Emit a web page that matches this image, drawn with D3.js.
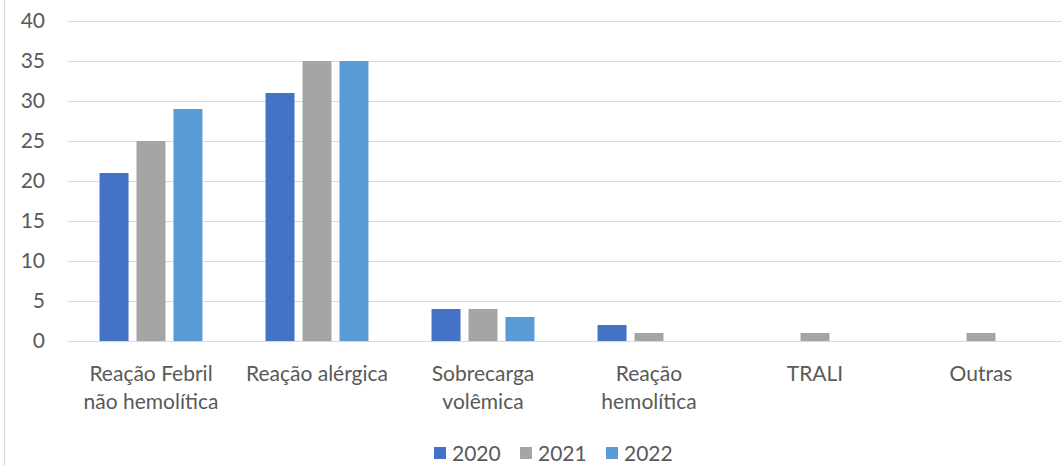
<!DOCTYPE html>
<html>
<head>
<meta charset="utf-8">
<script src="https://cdn.jsdelivr.net/npm/d3@7"></script>
<style>
  html, body { margin: 0; padding: 0; background: #fff; }
  svg { display: block; }
  text { font-family: Lato, "Liberation Sans", sans-serif; fill: #595959; }
</style>
</head>
<body>
<svg id="chart" width="1062" height="466"></svg>
<script>
// Transfusion reaction counts by type and year
const categories = [
  "Reação Febril não hemolítica",
  "Reação alérgica",
  "Sobrecarga volêmica",
  "Reação hemolítica",
  "TRALI",
  "Outras"
];
// Category labels split into the lines shown under the axis
const categoryLines = [
  ["Reação Febril", "não hemolítica"],
  ["Reação alérgica"],
  ["Sobrecarga", "volêmica"],
  ["Reação", "hemolítica"],
  ["TRALI"],
  ["Outras"]
];
const years = ["2020", "2021", "2022"];
const values2020 = [21, 31, 4, 2, 0, 0];
const values2021 = [25, 35, 4, 1, 1, 1];
const values2022 = [29, 35, 3, 0, 0, 0];
const yTicks = [0, 5, 10, 15, 20, 25, 30, 35, 40];
const colors = ["#4472C4", "#A5A5A5", "#5B9BD5"];

const series = [values2020, values2021, values2022];
const fontSize = 21;

const svg = d3.select("#chart");

// frame edge on the left
svg.append("line")
  .attr("x1", 4.5).attr("x2", 4.5)
  .attr("y1", 0).attr("y2", 466)
  .attr("stroke", "#d9d9d9").attr("stroke-width", 1);

const plot = { left: 68, right: 1064, top: 21, bottom: 341 };

const x0 = d3.scaleBand()
  .domain(categories)
  .range([plot.left, plot.right])
  .paddingInner(0.38)
  .paddingOuter(0.19);

const x1 = d3.scaleBand()
  .domain(years)
  .range([0, x0.bandwidth()])
  .paddingInner(0.216)
  .paddingOuter(0);

const y = d3.scaleLinear()
  .domain([0, 40])
  .range([plot.bottom, plot.top]);

const color = d3.scaleOrdinal().domain(years).range(colors);

// horizontal gridlines and value labels
const yAxis = d3.axisLeft(y)
  .tickValues(yTicks)
  .tickSize(-(plot.right - plot.left))
  .tickPadding(23);

const gy = svg.append("g")
  .attr("transform", `translate(${plot.left},0)`)
  .call(yAxis);
gy.select(".domain").remove();
gy.selectAll(".tick line")
  .attr("stroke", "#d9d9d9")
  .attr("stroke-width", 1)
  .attr("shape-rendering", "crispEdges");
gy.selectAll(".tick text")
  .attr("font-size", fontSize)
  .attr("fill", "#595959")
  .style("font-family", "Lato, 'Liberation Sans', sans-serif");

// bars
const groups = svg.append("g")
  .selectAll("g")
  .data(categories)
  .join("g")
  .attr("transform", d => `translate(${x0(d)},0)`);

groups.selectAll("rect")
  .data((d, i) => years.map((yr, s) => ({ yr, v: series[s][i] })))
  .join("rect")
  .filter(d => d.v > 0)
  .attr("x", d => x1(d.yr))
  .attr("width", x1.bandwidth())
  .attr("y", d => y(d.v))
  .attr("height", d => y(0) - y(d.v))
  .attr("fill", d => color(d.yr));

// category axis (labels drawn as multi-line text below)
const xAxis = d3.axisBottom(x0).tickSize(0).tickFormat("");
const gx = svg.append("g")
  .attr("transform", `translate(0,${plot.bottom})`)
  .call(xAxis);
gx.select(".domain").remove();

const labelG = svg.append("g");
categories.forEach((c, i) => {
  const cx = x0(c) + x0.bandwidth() / 2;
  const t = labelG.append("text")
    .attr("text-anchor", "middle")
    .attr("font-size", fontSize)
    .attr("x", cx)
    .attr("y", 381);
  categoryLines[i].forEach((line, j) => {
    t.append("tspan")
      .attr("x", cx)
      .attr("dy", j === 0 ? 0 : 28)
      .text(line);
  });
});

// legend
const legendX = [434, 520, 606];
const legend = svg.append("g");
years.forEach((yr, i) => {
  legend.append("rect")
    .attr("x", legendX[i])
    .attr("y", 447)
    .attr("width", 12)
    .attr("height", 12)
    .attr("fill", color(yr));
  legend.append("text")
    .attr("x", legendX[i] + 18)
    .attr("y", 461)
    .attr("font-size", fontSize)
    .text(yr);
});
</script>
</body>
</html>
